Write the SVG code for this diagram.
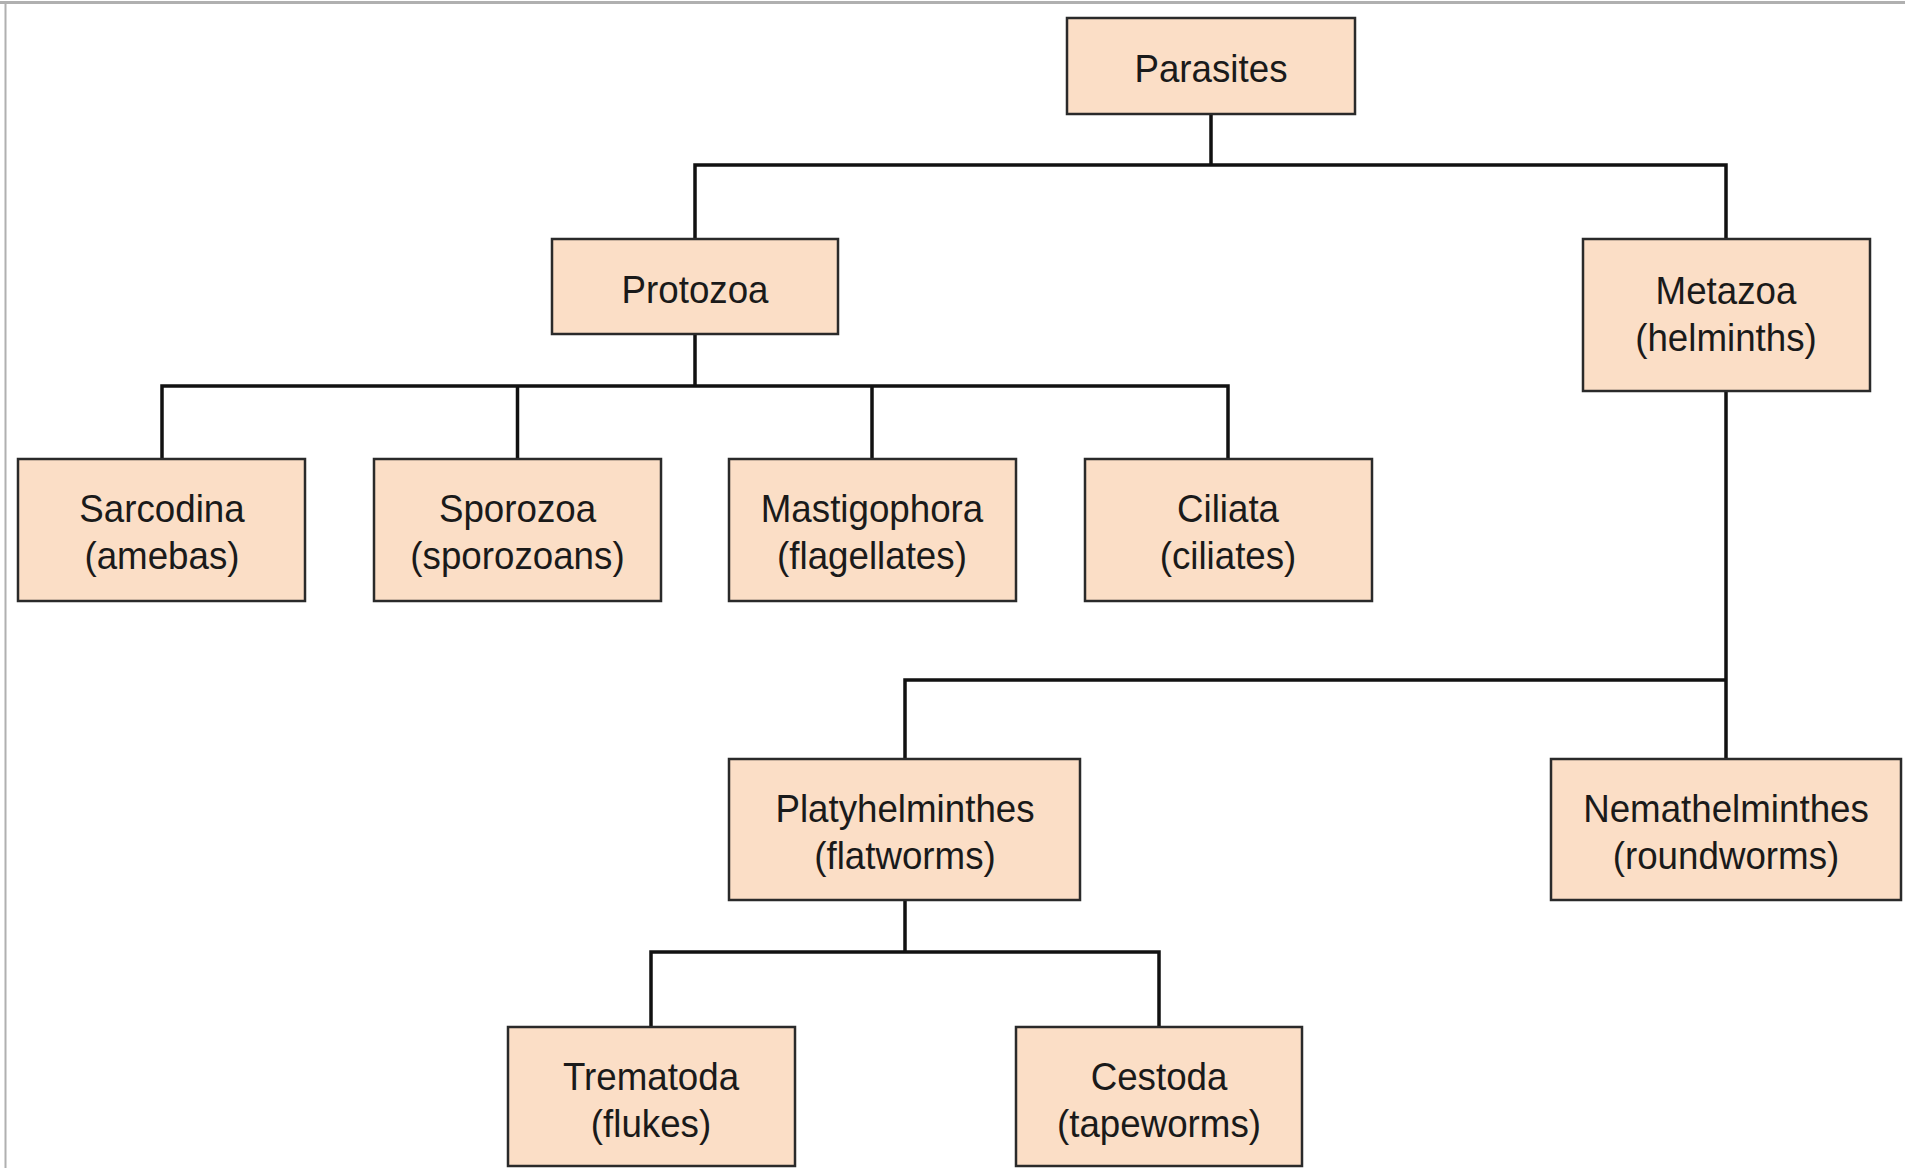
<svg xmlns="http://www.w3.org/2000/svg" width="1905" height="1168" viewBox="0 0 1905 1168">
<style>
.box{fill:#FBDEC6;stroke:#2a2a2a;stroke-width:2.5}
.lbl{font-family:"Liberation Sans",Arial,sans-serif;font-size:39.5px;fill:#1a1a1a;text-anchor:middle;transform-box:fill-box;transform-origin:center;transform:scale(0.93,1)}
.con{fill:none;stroke:#111;stroke-width:3.5}
.frame{stroke:#b0b0b0;fill:none}
</style>
<rect width="1905" height="1168" fill="#fff"/>
<line class="frame" x1="0" y1="2.5" x2="1905" y2="2.5" stroke-width="3"/>
<line class="frame" x1="5.5" y1="2" x2="5.5" y2="1168" stroke-width="2"/>
<g id="connectors">
<path class="con" d="M1211,114 V165 M695,239 V165 H1726 V239"/>
<path class="con" d="M695,334 V386 M162,459 V386 H1228 V459 M517.5,386 V459 M872,386 V459"/>
<path class="con" d="M1726,391 V759 M905,759 V680 H1726"/>
<path class="con" d="M905,900 V952 M651,1027 V952 H1159 V1027"/>
</g>
<g id="parasites"><rect class="box" x="1067" y="18" width="288" height="96"/><text class="lbl" x="1211" y="82">Parasites</text></g>
<g id="protozoa"><rect class="box" x="552" y="239" width="286" height="95"/><text class="lbl" x="695" y="303">Protozoa</text></g>
<g id="metazoa"><rect class="box" x="1583" y="239" width="287" height="152"/><text class="lbl" x="1726" y="304">Metazoa</text><text class="lbl" x="1726" y="351">(helminths)</text></g>
<g id="sarcodina"><rect class="box" x="18" y="459" width="287" height="142"/><text class="lbl" x="162" y="522">Sarcodina</text><text class="lbl" x="162" y="569">(amebas)</text></g>
<g id="sporozoa"><rect class="box" x="374" y="459" width="287" height="142"/><text class="lbl" x="517.5" y="522">Sporozoa</text><text class="lbl" x="517.5" y="569">(sporozoans)</text></g>
<g id="mastigophora"><rect class="box" x="729" y="459" width="287" height="142"/><text class="lbl" x="872" y="522">Mastigophora</text><text class="lbl" x="872" y="569">(flagellates)</text></g>
<g id="ciliata"><rect class="box" x="1085" y="459" width="287" height="142"/><text class="lbl" x="1228" y="522">Ciliata</text><text class="lbl" x="1228" y="569">(ciliates)</text></g>
<g id="platyhelminthes"><rect class="box" x="729" y="759" width="351" height="141"/><text class="lbl" x="905" y="822">Platyhelminthes</text><text class="lbl" x="905" y="869">(flatworms)</text></g>
<g id="nemathelminthes"><rect class="box" x="1551" y="759" width="350" height="141"/><text class="lbl" x="1726" y="822">Nemathelminthes</text><text class="lbl" x="1726" y="869">(roundworms)</text></g>
<g id="trematoda"><rect class="box" x="508" y="1027" width="287" height="139"/><text class="lbl" x="651" y="1090">Trematoda</text><text class="lbl" x="651" y="1137">(flukes)</text></g>
<g id="cestoda"><rect class="box" x="1016" y="1027" width="286" height="139"/><text class="lbl" x="1159" y="1090">Cestoda</text><text class="lbl" x="1159" y="1137">(tapeworms)</text></g>
</svg>
